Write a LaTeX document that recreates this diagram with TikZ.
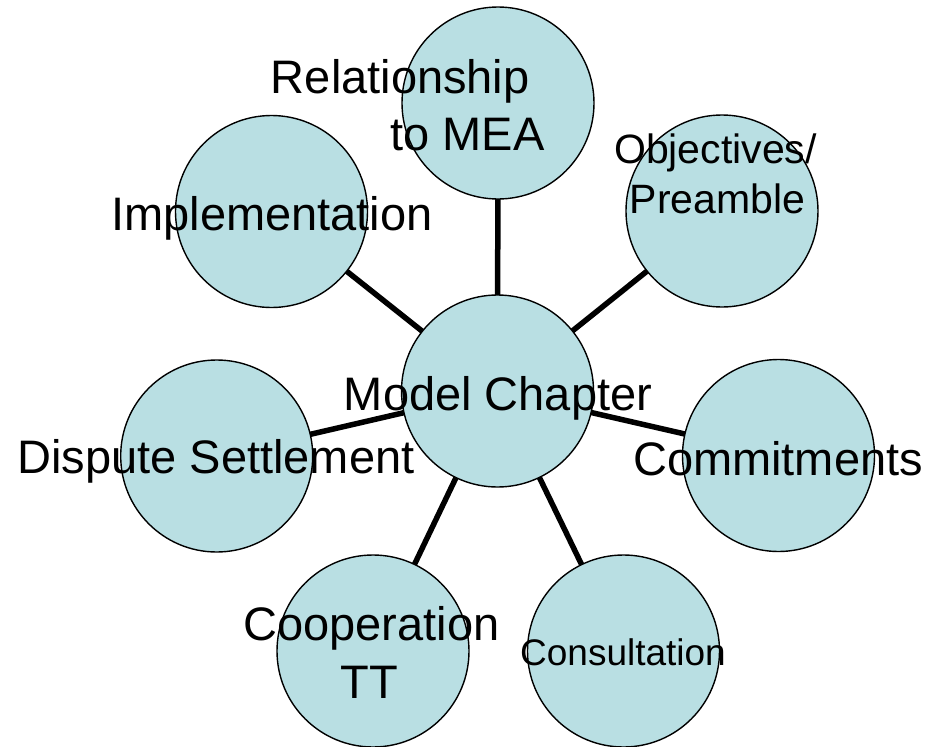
\documentclass[tikz,border=0pt]{standalone}
\usepackage{fontspec}
\setmainfont{Liberation Sans}
\definecolor{bubble}{RGB}{185,223,227}
\tikzset{
  bubble/.style={circle, draw=black, line width=1.4pt, fill=bubble, minimum size=192pt, inner sep=0pt},
  link/.style={line width=5.5pt, draw=black},
  big/.style={anchor=base, inner sep=0pt, font=\fontsize{47}{56}\selectfont},
  mid/.style={anchor=base, inner sep=0pt, font=\fontsize{41}{50}\selectfont},
  small/.style={anchor=base, inner sep=0pt, font=\fontsize{37}{44}\selectfont}
}
\begin{document}
\begin{tikzpicture}[x=1pt, y=-1pt]
\useasboundingbox (0,0) rectangle (930,747);
% circle centres
\coordinate (cC) at (497.5,391);
\coordinate (cR) at (498,103);
\coordinate (cO) at (722,211);
\coordinate (cM) at (778.5,455.5);
\coordinate (cS) at (623.5,651);
\coordinate (cT) at (373,651);
\coordinate (cD) at (216.7,456);
\coordinate (cI) at (271.5,211.5);
% connectors
\foreach \o in {cR,cO,cM,cS,cT,cD,cI}{
  \draw[link] (cC) -- (\o);
}
% circles
\node[bubble] (rel) at (cR) {};
\node[bubble] (obj) at (cO) {};
\node[bubble] (com) at (cM) {};
\node[bubble] (con) at (cS) {};
\node[bubble] (coo) at (cT) {};
\node[bubble] (dis) at (cD) {};
\node[bubble] (imp) at (cI) {};
\node[bubble] (mod) at (cC) {};
% labels
\node[big] (relA) at (400.3,93.3) {Relationship};
\node[big] (relB) at (467.5,150) {to MEA};
\node[mid] (objA) at (715.5,163) {Objectives/};
\node[mid] (objB) at (717.5,213) {Preamble};
\node[big] (comT) at (778,475) {Commitments};
\node[small] (conT) at (623,665) {Consultation};
\node[big] (cooA) at (371.5,640) {Cooperation};
\node[big] (cooB) at (369,698) {TT};
\node[big] (disT) at (216,473) {Dispute Settlement};
\node[big] (impT) at (272,230) {Implementation};
\node[big] (modT) at (498,410) {Model Chapter};
\end{tikzpicture}
\end{document}
